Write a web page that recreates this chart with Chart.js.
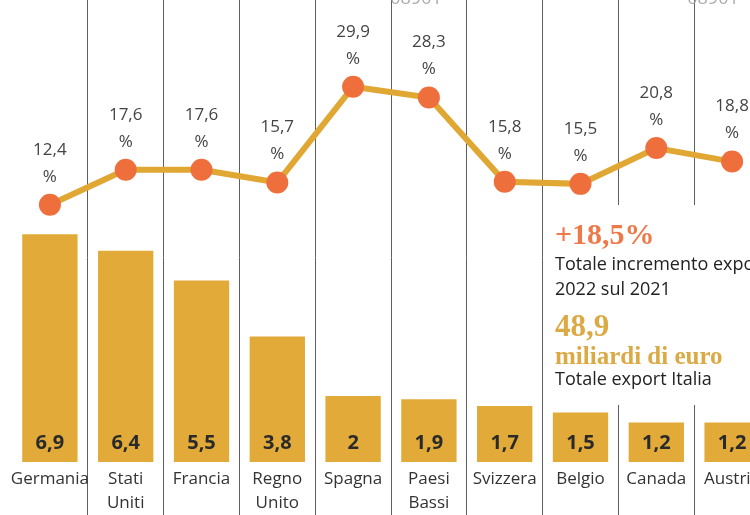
<!DOCTYPE html>
<html>
<head>
<meta charset="utf-8">
<script src="https://cdn.jsdelivr.net/npm/chart.js@4.4.0/dist/chart.umd.min.js"></script>
<style>
  html, body { margin: 0; padding: 0; background: #fff; overflow: hidden; width: 750px; height: 515px; }
  #chart_Export { position: absolute; left: 0; top: 0; }
</style>
</head>
<body>
<canvas id="chart_Export" width="770" height="515"></canvas>
<script>
// paesi (etichette su una o due righe)
var paesi = [
  ["Germania"], ["Stati", "Uniti"], ["Francia"], ["Regno", "Unito"], ["Spagna"],
  ["Paesi", "Bassi"], ["Svizzera"], ["Belgio"], ["Canada"], ["Austria"]
];
// export in miliardi di euro
var exportMld = [6.9, 6.4, 5.5, 3.8, 2, 1.9, 1.7, 1.5, 1.2, 1.2];
// incremento % 2022 sul 2021
var incremento = [12.4, 17.6, 17.6, 15.7, 29.9, 28.3, 15.8, 15.5, 20.8, 18.8];

var box = {
  big1: "+18,5%",
  line1: "Totale incremento export",
  line2: "2022 sul 2021",
  big2: "48,9",
  big3: "miliardi di euro",
  line3: "Totale export Italia"
};

function virgola(v) {
  return String(v).replace(".", ",");
}

var sans = "'Open Sans', sans-serif";
var serif = "'Liberation Serif', 'DejaVu Serif', serif";

var etichette = {
  id: "etichette",
  beforeDatasetsDraw: function (chart) {
    var c = chart.ctx;
    c.save();
    // riquadro bianco dietro al testo riassuntivo
    c.fillStyle = "#fff";
    c.fillRect(550, 205, 230, 200);
    c.restore();
  },
  afterDatasetsDraw: function (chart) {
    var c = chart.ctx;
    var x = chart.scales.x;
    var yBar = chart.scales.yBar;
    var barMeta = chart.getDatasetMeta(0);
    var lineMeta = chart.getDatasetMeta(1);
    c.save();
    c.textAlign = "center";
    c.textBaseline = "middle";

    // valori sopra i punti
    c.fillStyle = "#444";
    c.font = "17px " + sans;
    lineMeta.data.forEach(function (p, i) {
      c.fillText(virgola(incremento[i]), p.x, p.y - 55);
      c.fillText("%", p.x, p.y - 28);
    });

    // valori dentro le barre
    var base = yBar.getPixelForValue(0);
    c.fillStyle = "#2a2a2a";
    c.font = "bold 20px " + sans;
    barMeta.data.forEach(function (b, i) {
      c.fillText(virgola(exportMld[i]), b.x, base - 19);
    });

    // nomi dei paesi
    c.fillStyle = "#333";
    c.font = "17px " + sans;
    paesi.forEach(function (righe, i) {
      var cx = x.getPixelForValue(i);
      righe.forEach(function (r, k) {
        c.fillText(r, cx, base + 17 + k * 24);
      });
    });

    // testo riassuntivo
    c.textAlign = "left";
    c.textBaseline = "alphabetic";
    c.fillStyle = "#ee7a4a";
    c.font = "bold 30px " + serif;
    c.fillText(box.big1, 555, 244);
    c.fillStyle = "#222";
    c.font = "18px " + sans;
    c.fillText(box.line1, 555, 270);
    c.fillText(box.line2, 555, 295);
    c.fillStyle = "#dcaa45";
    c.font = "bold 31px " + serif;
    c.fillText(box.big2, 555, 336);
    c.font = "bold 25px " + serif;
    c.fillText(box.big3, 555, 364);
    c.fillStyle = "#222";
    c.font = "18px " + sans;
    c.fillText(box.line3, 555, 385);

    // resti della testata tagliata in alto
    c.textAlign = "center";
    c.fillStyle = "#aaa";
    c.font = "18px " + sans;
    c.fillText("08901", 416, 4);
    c.fillText("08901", 713, 4);
    c.restore();
  }
};

new Chart(document.getElementById("chart_Export"), {
  data: {
    labels: paesi,
    datasets: [{
      type: "bar",
      label: "Export (mld euro)",
      data: exportMld,
      yAxisID: "yBar",
      backgroundColor: "#e2aa38",
      categoryPercentage: 1,
      barPercentage: 0.73,
      order: 1
    }, {
      type: "line",
      label: "Incremento %",
      data: incremento,
      yAxisID: "yLine",
      borderColor: "#e0a733",
      borderWidth: 6,
      pointRadius: 11,
      pointBackgroundColor: "#ee6e3c",
      pointBorderWidth: 0,
      tension: 0,
      order: 0
    }]
  },
  options: {
    responsive: false,
    animation: false,
    layout: { autoPadding: false, padding: { left: 12, right: 0, top: 0, bottom: 0 } },
    plugins: {
      legend: { display: false },
      tooltip: { enabled: false }
    },
    scales: {
      x: {
        display: true,
        offset: true,
        border: { display: false },
        ticks: { display: false },
        afterFit: function (s) { s.height = 0; },
        grid: {
          offset: true,
          drawTicks: false,
          lineWidth: 1,
          color: function (ctx) {
            return ctx.index === 0 ? "rgba(0,0,0,0)" : "#5e5e5e";
          }
        }
      },
      yBar: {
        display: false,
        min: -1.606,
        max: 14
      },
      yLine: {
        display: false,
        min: -33.56,
        max: 42.74
      }
    }
  },
  plugins: [etichette]
});
</script>
</body>
</html>
